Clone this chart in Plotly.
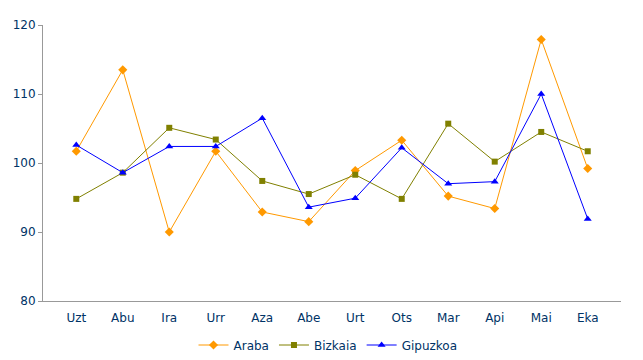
import plotly.graph_objects as go

months = ["Uzt", "Abu", "Ira", "Urr", "Aza", "Abe", "Urt", "Ots", "Mar", "Api", "Mai", "Eka"]
araba = [101.7, 113.5, 90.0, 101.7, 92.9, 91.5, 98.9, 103.3, 95.2, 93.4, 117.9, 99.2]
bizkaia = [94.8, 98.6, 105.1, 103.4, 97.4, 95.5, 98.3, 94.8, 105.7, 100.2, 104.5, 101.7]
gipuzkoa = [102.6, 98.6, 102.4, 102.4, 106.5, 93.6, 94.9, 102.2, 97.0, 97.3, 110.0, 91.9]

series = [
    ("Araba", araba, "#FF9900", "diamond", 7),
    ("Bizkaia", bizkaia, "#808000", "square", 6),
    ("Gipuzkoa", gipuzkoa, "#0000FF", "triangle-up", 7),
]

W, H = 643, 360
OFF = 8  # page body margin offset

fig = go.Figure()
for name, vals, color, sym, sz in series:
    fig.add_trace(go.Scatter(
        x=months, y=vals, name=name, mode="lines+markers",
        line=dict(color=color, width=1),
        marker=dict(symbol=sym, size=sz, color=color),
    ))

fig.update_layout(
    width=W, height=H,
    margin=dict(l=0, r=0, t=0, b=0, autoexpand=False),
    paper_bgcolor="white", plot_bgcolor="white",
    font=dict(family="DejaVu Sans", size=12, color="#003366"),
    showlegend=True,
    legend=dict(orientation="h", x=(328 - OFF) / W, xanchor="center",
                y=1 - (345 - OFF) / H, yanchor="middle",
                font=dict(size=12, color="#003366"), itemwidth=30,
                tracegroupgap=0),
    xaxis=dict(domain=[(43 - OFF) / W, (621 - OFF) / W], showgrid=False, showline=True,
               linecolor="#999999", linewidth=1,
               ticks="", automargin=False, ticklabelstandoff=6,
               tickfont=dict(size=12, color="#003366")),
    yaxis=dict(domain=[1 - (301 - OFF) / H, 1 - (25 - OFF) / H], range=[80, 120], dtick=10,
               showgrid=False, zeroline=False,
               showline=True, linecolor="#999999", linewidth=1,
               ticks="outside", ticklen=4, tickcolor="#999999", automargin=False,
               tickfont=dict(size=12, color="#003366")),
)

fig.write_html("out.html")
